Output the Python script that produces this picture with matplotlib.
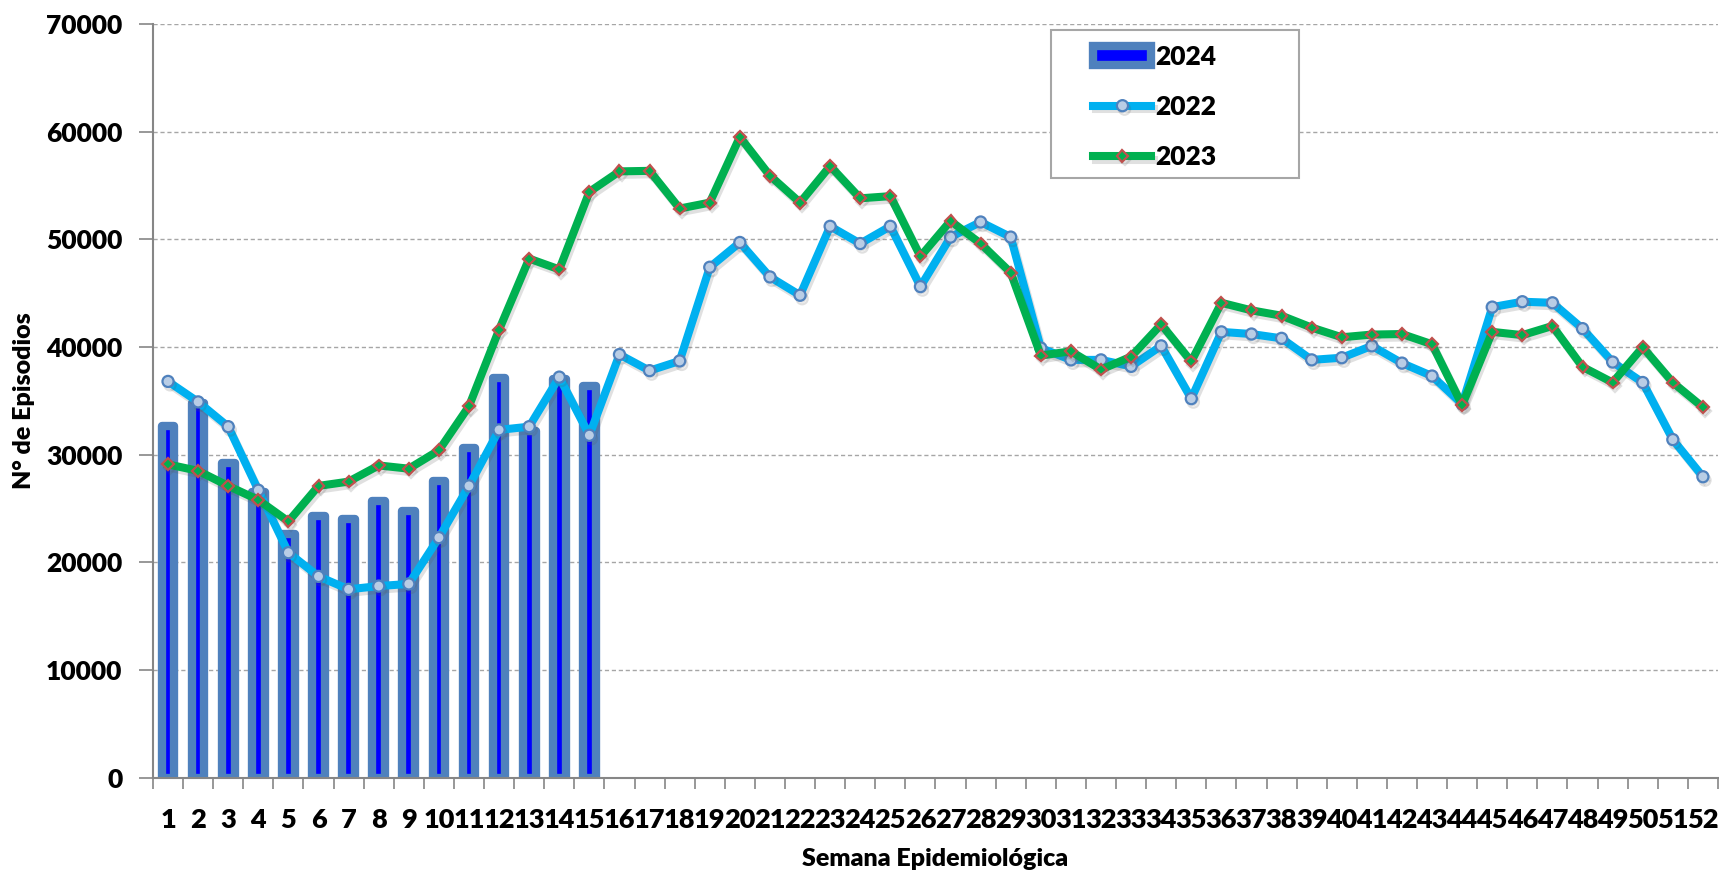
import matplotlib
matplotlib.use("Agg")
import matplotlib.pyplot as plt
import matplotlib.patheffects as pe
from matplotlib.patches import Rectangle
import numpy as np

weeks = list(range(1, 53))
week_labels = [str(w) for w in weeks]

weeks_2024 = list(range(1, 16))
cases_2024 = [32700, 34800, 29200, 26500, 22600, 24300, 24000, 25700, 24800,
              27600, 30600, 37100, 32200, 37000, 36400]

cases_2022 = [36800, 34900, 32600, 26700, 20900, 18700, 17500, 17800, 18000,
              22300, 27100, 32300, 32600, 37200, 31800, 39300, 37800, 38700,
              47400, 49700, 46500, 44800, 51200, 49600, 51200, 45600, 50200,
              51600, 50200, 39900, 38800, 38800, 38200, 40100, 35200, 41400,
              41200, 40800, 38800, 39000, 40100, 38500, 37300, 34700, 43700,
              44200, 44100, 41700, 38600, 36700, 31400, 27950]

cases_2023 = [29100, 28500, 27100, 25800, 23800, 27100, 27500, 29000, 28700,
              30400, 34500, 41600, 48200, 47200, 54400, 56300, 56350, 52850,
              53400, 59500, 55900, 53400, 56800, 53800, 54000, 48400, 51700,
              49600, 46900, 39200, 39600, 37900, 39100, 42100, 38650, 44100,
              43400, 42900, 41800, 40900, 41150, 41200, 40250, 34600, 41400,
              41100, 41950, 38150, 36700, 39980, 36700, 34400]

yticks = list(range(0, 70001, 10000))

FONT = ["Lato", "DejaVu Sans"]
W = 'heavy'
plt.rcParams['font.family'] = FONT
plt.rcParams['font.weight'] = W

fig = plt.figure(figsize=(17.19, 8.72), dpi=100)
ax = fig.add_axes([0.089, 0.108, 0.9104, 0.8647])

shadow = [pe.SimpleLineShadow(offset=(1.5, -2.5), alpha=0.18, shadow_color='#555555'), pe.Normal()]

bars = ax.bar(weeks_2024, cases_2024, width=0.42, color='#0000FF', edgecolor='#4F81BD',
              linewidth=6.0, joinstyle='round', label='2024', zorder=2)

l22, = ax.plot(weeks, cases_2022, color='#00B0F0', linewidth=5.8, marker='o', markersize=8,
               markerfacecolor='#B9CDE5', markeredgecolor='#4F81BD', markeredgewidth=1.6,
               label='2022', zorder=3, path_effects=shadow, solid_joinstyle='round')
l23, = ax.plot(weeks, cases_2023, color='#00B050', linewidth=5.8, marker='D', markersize=6,
               markerfacecolor='#00B050', markeredgecolor='#C0504D', markeredgewidth=1.6,
               label='2023', zorder=4, path_effects=shadow, solid_joinstyle='round')

ax.set_xlim(0.5, 52.5)
ax.set_ylim(0, 70000)
ax.set_yticks(yticks)
ax.set_yticklabels([str(v) for v in yticks], fontsize=19, fontweight=W)
ax.set_xticks(weeks)
ax.set_xticklabels(week_labels, fontsize=19.5, fontweight=W)
ax.set_xticks(np.arange(0.5, 53.0, 1.0), minor=True)
ax.tick_params(axis='x', which='major', length=0, pad=22)
ax.tick_params(axis='x', which='minor', length=8, width=1.2, color='#868686', direction='out')
ax.tick_params(axis='y', which='major', length=10, width=1.2, color='#868686', pad=12)

ax.yaxis.grid(True, linestyle=(0, (3, 2)), color='#A6A6A6', linewidth=1.0)
ax.set_axisbelow(True)
for s in ['top', 'right']:
    ax.spines[s].set_visible(False)
for s in ['left', 'bottom']:
    ax.spines[s].set_color('#868686')
    ax.spines[s].set_linewidth(1.5)

ax.set_ylabel('N° de Episodios', fontsize=18, fontweight=W, labelpad=8)
ax.set_xlabel('Semana Epidemiológica', fontsize=18, fontweight=W, labelpad=11)

leg = ax.legend(handles=[bars, l22, l23], labels=['2024', '2022', '2023'],
                loc='upper left', bbox_to_anchor=(0.5925, 0.99), frameon=False,
                prop={'family': FONT, 'weight': W, 'size': 19},
                handlelength=2.2, handletextpad=0.15, labelspacing=1.0,
                borderpad=0.0)
leg.set_zorder(6)
frame = Rectangle((0.574, 0.796), 0.158, 0.196, transform=ax.transAxes,
                  facecolor='white', edgecolor='#A6A6A6', linewidth=1.5, zorder=5)
ax.add_patch(frame)

fig.savefig('out.png', dpi=100)
